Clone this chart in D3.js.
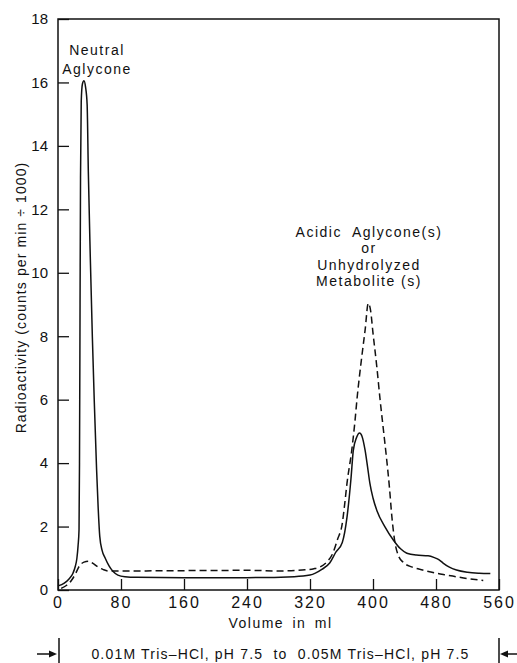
<!DOCTYPE html>
<meta charset="utf-8">
<style>
  body { margin: 0; background: #fff; }
  text { font-family: "Liberation Sans", Arial, sans-serif; fill: #111; }
</style>

<!-- Load d3.js -->
<script src="https://d3js.org/d3.v7.min.js"></script>

<!-- Create a div where the graph will take place -->
<div id="my_dataviz"></div>

<script>

// ---- data (volume in ml, radioactivity / 1000) ----
var solidVolume = [0, 8, 14, 19, 22, 24, 25.5, 26.7, 27.3, 28, 28.6, 29.5, 31, 33, 35, 37, 38.5, 41, 43.6, 46, 49, 51, 53, 56, 60, 65, 70, 76, 85, 100, 160, 240, 300, 320, 335, 345, 353, 361, 367, 372, 375, 379, 383, 386, 390, 393, 396, 400, 405, 415, 426, 435, 443, 455, 470, 478, 484, 489, 497, 506, 520, 535, 549]
var solidValue  = [0.13, 0.22, 0.35, 0.53, 0.75, 1.0, 1.4, 1.9, 4, 9, 13, 15.4, 15.95, 16.05, 15.85, 15.3, 13.2, 10.5, 8, 6, 3.8, 2.6, 1.7, 1.25, 1.0, 0.75, 0.58, 0.47, 0.42, 0.4, 0.39, 0.39, 0.42, 0.47, 0.65, 0.85, 1.2, 1.5, 2.3, 3.5, 4.4, 4.8, 4.95, 4.85, 4.4, 3.9, 3.37, 2.9, 2.5, 2.0, 1.57, 1.3, 1.16, 1.1, 1.08, 1.02, 0.95, 0.85, 0.72, 0.63, 0.56, 0.53, 0.52]

var dashedVolume = [4, 11, 17, 22, 27, 33, 39, 45, 51, 57, 64, 80, 160, 240, 282, 310, 325, 333, 342, 349, 355, 361, 364, 367, 373, 377, 380, 385, 390, 394, 397, 400, 405, 409, 413, 417, 421, 424, 428, 432, 438, 450, 463, 480, 494, 515, 540]
var dashedValue  = [0.05, 0.15, 0.3, 0.5, 0.75, 0.88, 0.91, 0.83, 0.72, 0.65, 0.6, 0.6, 0.61, 0.62, 0.6, 0.63, 0.67, 0.73, 0.9, 1.16, 1.6, 2.1, 2.7, 3.37, 4.4, 5.3, 6.1, 7.2, 8.2, 9.04, 8.8, 8.1, 7.0, 6.0, 5.1, 4.2, 3.2, 2.3, 1.48, 1.1, 0.88, 0.72, 0.63, 0.53, 0.47, 0.38, 0.3]

var xTicks = [0, 80, 160, 240, 320, 400, 480, 560]
var yTicks = [0, 2, 4, 6, 8, 10, 12, 14, 16, 18]

// set the dimensions and margins of the graph
var margin = {top: 19, right: 18, bottom: 73, left: 58},
    width = 517 - margin.left - margin.right,
    height = 663 - margin.top - margin.bottom;

var root = d3.select("#my_dataviz")
  .append("svg")
    .attr("width", 517)
    .attr("height", 663)

var svg = root.append("g")
    .attr("transform", "translate(" + margin.left + "," + margin.top + ")");

var x = d3.scaleLinear().domain([0, 560]).range([0, width]);
var y = d3.scaleLinear().domain([0, 18]).range([height, 0]);

// frame around the plot
svg.append("rect")
  .attr("x", 0).attr("y", 0)
  .attr("width", width).attr("height", height)
  .attr("fill", "none")
  .attr("stroke", "#111")
  .attr("stroke-width", 1.5)

// axes, ticks pointing inward
var xAxis = svg.append("g")
  .attr("transform", "translate(0," + height + ")")
  .call(d3.axisBottom(x).tickValues(xTicks).tickSizeInner(-11).tickSizeOuter(0).tickPadding(7))
var yAxis = svg.append("g")
  .call(d3.axisLeft(y).tickValues(yTicks).tickSizeInner(-11).tickSizeOuter(0).tickPadding(10))

xAxis.select(".domain").remove()
yAxis.select(".domain").remove()
root.selectAll(".tick line").attr("stroke", "#111").attr("stroke-width", 1.3)
root.selectAll(".tick text")
  .style("font-family", "Liberation Sans, Arial, sans-serif")
  .attr("fill", "#111")
xAxis.selectAll(".tick text")
  .style("font-size", "16px")
  .style("letter-spacing", "2px")
yAxis.selectAll(".tick text")
  .style("font-size", "15px")

// the two curves
var line = d3.line()
  .x(function(d) { return x(d[0]); })
  .y(function(d) { return y(d[1]); })
  .curve(d3.curveMonotoneX)

var solid = solidVolume.map(function(v, i) { return [v, solidValue[i]]; })
var dashed = dashedVolume.map(function(v, i) { return [v, dashedValue[i]]; })

svg.append("path")
  .datum(dashed)
  .attr("fill", "none")
  .attr("stroke", "#111")
  .attr("stroke-width", 1.5)
  .attr("stroke-dasharray", "7,4")
  .attr("d", line)

svg.append("path")
  .datum(solid)
  .attr("fill", "none")
  .attr("stroke", "#111")
  .attr("stroke-width", 1.5)
  .attr("d", line)

// peak annotations
var note = svg.append("g")
  .style("font-size", "14px")
  .style("letter-spacing", "1.5px")
  .attr("text-anchor", "middle")

note.append("text").attr("x", 39).attr("y", 36).text("Neutral")
note.append("text").attr("x", 39).attr("y", 55).text("Aglycone")

var acid = ["Acidic  Aglycone(s)", "or", "Unhydrolyzed", "Metabolite (s)"]
acid.forEach(function(t, i) {
  note.append("text")
    .attr("x", 311)
    .attr("y", 218 + i * 16.3)
    .style("white-space", "pre")
    .text(t)
})

// axis titles
svg.append("text")
  .attr("x", width / 2 + 2)
  .attr("y", height + 38)
  .attr("text-anchor", "middle")
  .style("font-size", "14px")
  .style("letter-spacing", "1.5px")
  .style("word-spacing", "3px")
  .text("Volume in ml")

svg.append("text")
  .attr("transform", "translate(-32," + (height / 2 - 7) + ") rotate(-90)")
  .attr("text-anchor", "middle")
  .style("font-size", "14px")
  .style("letter-spacing", "1.1px")
  .text("Radioactivity (counts per min \u00f7 1000)")

// buffer gradient bracket under the x axis
var bracket = svg.append("g").attr("transform", "translate(0," + (height + 48) + ")")

bracket.append("text")
  .attr("x", width / 2 + 2)
  .attr("y", 21)
  .attr("text-anchor", "middle")
  .style("font-size", "14px")
  .style("letter-spacing", "1.2px")
  .style("white-space", "pre")
  .text("0.01M Tris\u2013HCl, pH 7.5  to  0.05M Tris\u2013HCl, pH 7.5")

;[x(0) + 1, x(560)].forEach(function(px) {
  bracket.append("line")
    .attr("x1", px).attr("x2", px)
    .attr("y1", 0).attr("y2", 26)
    .attr("stroke", "#111").attr("stroke-width", 1.5)
})

// arrows pointing at the bracket ends
bracket.append("line")
  .attr("x1", x(0) - 21).attr("x2", x(0) - 6)
  .attr("y1", 16).attr("y2", 16)
  .attr("stroke", "#111").attr("stroke-width", 1.5)
bracket.append("path")
  .attr("d", "M" + (x(0) - 1) + ",16 L" + (x(0) - 9) + ",12.5 L" + (x(0) - 9) + ",19.5 Z")
  .attr("fill", "#111")

bracket.append("line")
  .attr("x1", x(560) + 18).attr("x2", x(560) + 6)
  .attr("y1", 16).attr("y2", 16)
  .attr("stroke", "#111").attr("stroke-width", 1.5)
bracket.append("path")
  .attr("d", "M" + (x(560) + 1) + ",16 L" + (x(560) + 9) + ",12.5 L" + (x(560) + 9) + ",19.5 Z")
  .attr("fill", "#111")

</script>
